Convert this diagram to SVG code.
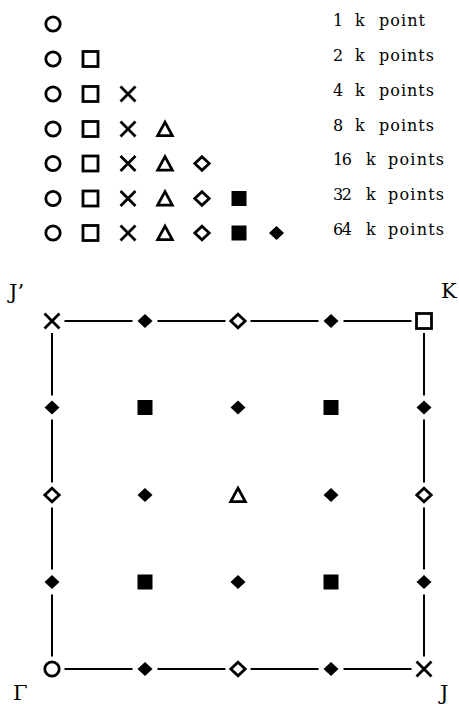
<svg xmlns="http://www.w3.org/2000/svg" xmlns:xlink="http://www.w3.org/1999/xlink" width="459" height="704" viewBox="0 0 459 704">
<style>
.o{fill:#fff;stroke:#000;stroke-width:2.8;stroke-linejoin:miter}
.x{stroke:#000;stroke-width:2.8;fill:none}
.f{fill:#000;stroke:none}
.conn line{stroke:#000;stroke-width:2}
.lt{font-family:"DejaVu Serif","Liberation Serif",serif;font-size:16px;fill:#000}
.lb{font-family:"DejaVu Serif","Liberation Serif",serif;font-size:21px;fill:#000}
</style>
<defs>
<g id="mc"><circle cx="0" cy="0" r="7.2" class="o"/></g>
<g id="ms"><rect x="-7.5" y="-7.5" width="15" height="15" class="o"/></g>
<g id="mx"><path d="M-7.5,-7.5L7.5,7.5M7.5,-7.5L-7.5,7.5" class="x"/></g>
<g id="mt"><path d="M0,-6.8L7.3,6.6L-7.3,6.6Z" class="o"/></g>
<g id="md"><path d="M0,-6.8L7.2,0L0,6.8L-7.2,0Z" class="o"/></g>
<g id="mS"><rect x="-7.5" y="-7.5" width="15" height="15" class="f"/></g>
<g id="mD"><path d="M0,-7L7.5,0L0,7L-7.5,0Z" class="f"/></g>
</defs>

<g id="legend">
<g id="row1">
<use xlink:href="#mc" x="53" y="24"/>
<text class="lt" x="333" y="25.5">1</text><text class="lt" x="355" y="25.5">k</text><text class="lt" x="379" y="25.5" textLength="46" lengthAdjust="spacing">point</text>
</g>
<g id="row2">
<use xlink:href="#mc" x="53" y="59"/><use xlink:href="#ms" x="90.5" y="59"/>
<text class="lt" x="333" y="60.5">2</text><text class="lt" x="355" y="60.5">k</text><text class="lt" x="379" y="60.5" textLength="55" lengthAdjust="spacing">points</text>
</g>
<g id="row3">
<use xlink:href="#mc" x="53" y="94"/><use xlink:href="#ms" x="90.5" y="94"/><use xlink:href="#mx" x="128" y="94"/>
<text class="lt" x="333" y="95.5">4</text><text class="lt" x="355" y="95.5">k</text><text class="lt" x="379" y="95.5" textLength="55" lengthAdjust="spacing">points</text>
</g>
<g id="row4">
<use xlink:href="#mc" x="53" y="129"/><use xlink:href="#ms" x="90.5" y="129"/><use xlink:href="#mx" x="128" y="129"/><use xlink:href="#mt" x="165" y="129"/>
<text class="lt" x="333" y="130.5">8</text><text class="lt" x="355" y="130.5">k</text><text class="lt" x="379" y="130.5" textLength="55" lengthAdjust="spacing">points</text>
</g>
<g id="row5">
<use xlink:href="#mc" x="53" y="163.5"/><use xlink:href="#ms" x="90.5" y="163.5"/><use xlink:href="#mx" x="128" y="163.5"/><use xlink:href="#mt" x="165" y="163.5"/><use xlink:href="#md" x="202" y="163.5"/>
<text class="lt" x="333" y="165" textLength="19" lengthAdjust="spacing">16</text><text class="lt" x="366" y="165">k</text><text class="lt" x="388" y="165" textLength="56" lengthAdjust="spacing">points</text>
</g>
<g id="row6">
<use xlink:href="#mc" x="53" y="198.5"/><use xlink:href="#ms" x="90.5" y="198.5"/><use xlink:href="#mx" x="128" y="198.5"/><use xlink:href="#mt" x="165" y="198.5"/><use xlink:href="#md" x="202" y="198.5"/><use xlink:href="#mS" x="239" y="198.5"/>
<text class="lt" x="333" y="200" textLength="19" lengthAdjust="spacing">32</text><text class="lt" x="366" y="200">k</text><text class="lt" x="388" y="200" textLength="56" lengthAdjust="spacing">points</text>
</g>
<g id="row7">
<use xlink:href="#mc" x="53" y="233"/><use xlink:href="#ms" x="90.5" y="233"/><use xlink:href="#mx" x="128" y="233"/><use xlink:href="#mt" x="165" y="233"/><use xlink:href="#md" x="202" y="233"/><use xlink:href="#mS" x="239" y="233"/><use xlink:href="#mD" x="276.5" y="233"/>
<text class="lt" x="333" y="234.5" textLength="19" lengthAdjust="spacing">64</text><text class="lt" x="366" y="234.5">k</text><text class="lt" x="388" y="234.5" textLength="56" lengthAdjust="spacing">points</text>
</g>
</g>

<g id="connectors" class="conn">
<line x1="64.5" y1="321" x2="132.5" y2="321"/>
<line x1="157.5" y1="321" x2="225.5" y2="321"/>
<line x1="250.5" y1="321" x2="318.5" y2="321"/>
<line x1="343.5" y1="321" x2="411.5" y2="321"/>
<line x1="64.5" y1="669" x2="132.5" y2="669"/>
<line x1="157.5" y1="669" x2="225.5" y2="669"/>
<line x1="250.5" y1="669" x2="318.5" y2="669"/>
<line x1="343.5" y1="669" x2="411.5" y2="669"/>
<line x1="52" y1="333" x2="52" y2="395.5"/>
<line x1="52" y1="419.5" x2="52" y2="482.5"/>
<line x1="52" y1="507.5" x2="52" y2="569.5"/>
<line x1="52" y1="594.5" x2="52" y2="656.5"/>
<line x1="424" y1="333" x2="424" y2="395.5"/>
<line x1="424" y1="419.5" x2="424" y2="482.5"/>
<line x1="424" y1="507.5" x2="424" y2="569.5"/>
<line x1="424" y1="594.5" x2="424" y2="656.5"/>
</g>

<g id="grid">
<g id="n-Jp"><use xlink:href="#mx" x="52" y="321"/><text class="lb" x="9" y="299">J’</text></g>
<g id="n-t1"><use xlink:href="#mD" x="145" y="321"/></g>
<g id="n-t2"><use xlink:href="#md" x="238" y="321"/></g>
<g id="n-t3"><use xlink:href="#mD" x="331" y="321"/></g>
<g id="n-K"><use xlink:href="#ms" x="424" y="321"/><text class="lb" x="441" y="298">K</text></g>

<g id="n-r1a"><use xlink:href="#mD" x="52" y="407.5"/></g>
<g id="n-r1b"><use xlink:href="#mS" x="145" y="407.5"/></g>
<g id="n-r1c"><use xlink:href="#mD" x="238" y="407.5"/></g>
<g id="n-r1d"><use xlink:href="#mS" x="331" y="407.5"/></g>
<g id="n-r1e"><use xlink:href="#mD" x="424" y="407.5"/></g>

<g id="n-r2a"><use xlink:href="#md" x="52" y="495"/></g>
<g id="n-r2b"><use xlink:href="#mD" x="145" y="495"/></g>
<g id="n-r2c"><use xlink:href="#mt" x="238" y="495"/></g>
<g id="n-r2d"><use xlink:href="#mD" x="331" y="495"/></g>
<g id="n-r2e"><use xlink:href="#md" x="424" y="495"/></g>

<g id="n-r3a"><use xlink:href="#mD" x="52" y="582"/></g>
<g id="n-r3b"><use xlink:href="#mS" x="145" y="582"/></g>
<g id="n-r3c"><use xlink:href="#mD" x="238" y="582"/></g>
<g id="n-r3d"><use xlink:href="#mS" x="331" y="582"/></g>
<g id="n-r3e"><use xlink:href="#mD" x="424" y="582"/></g>

<g id="n-G"><use xlink:href="#mc" x="52" y="669"/><text class="lb" x="13" y="700">Γ</text></g>
<g id="n-b1"><use xlink:href="#mD" x="145" y="669"/></g>
<g id="n-b2"><use xlink:href="#md" x="238" y="669"/></g>
<g id="n-b3"><use xlink:href="#mD" x="331" y="669"/></g>
<g id="n-J"><use xlink:href="#mx" x="424" y="669"/><text class="lb" x="440" y="700">J</text></g>
</g>
</svg>
